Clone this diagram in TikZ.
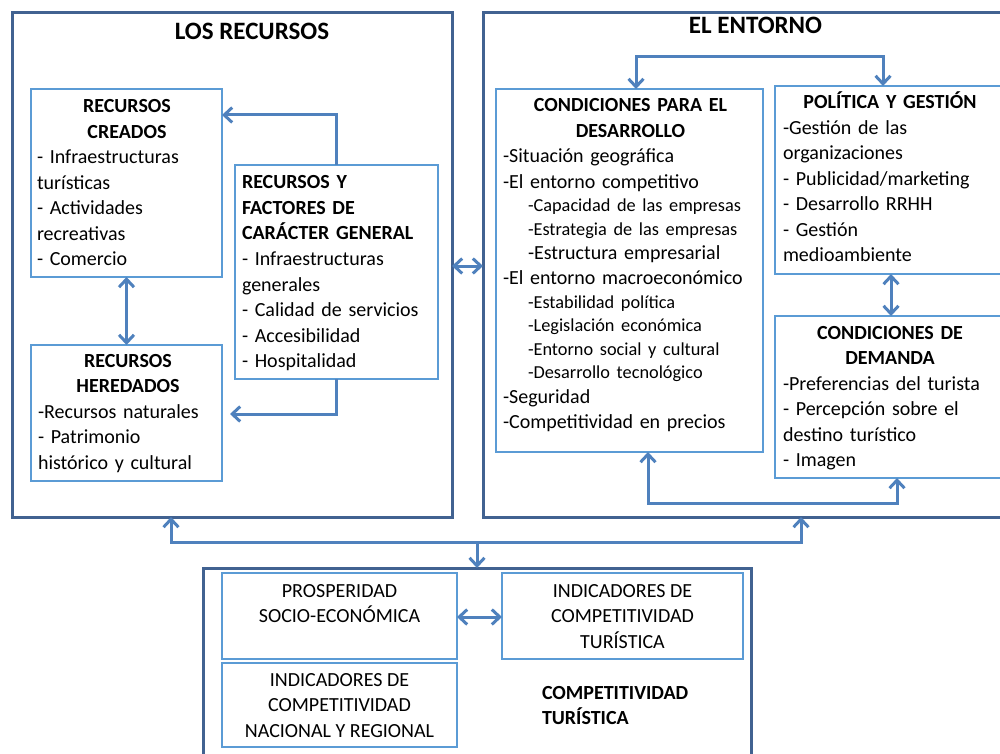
\documentclass[tikz,border=0pt]{standalone}
\usepackage{fontspec}
\setmainfont{Carlito}
\usetikzlibrary{arrows.meta}
\definecolor{outerc}{RGB}{65,98,145}
\definecolor{innerc}{RGB}{91,155,213}
\definecolor{arrc}{RGB}{79,129,189}
\newcommand\fMain{\fontsize{20}{25.5}\selectfont}
\newcommand\fSub{\fontsize{18.3}{23.5}\selectfont}
\newcommand\fMid{\fontsize{20}{24}\selectfont}
\newcommand\fTitle{\fontsize{25}{30}\selectfont\bfseries}
\begin{document}
\begin{tikzpicture}[x=1pt,y=-1pt,
  obox/.style={draw=outerc,line width=3pt,inner sep=0pt,outer sep=0pt},
  ibox/.style={draw=innerc,line width=1.6pt,inner sep=0pt,outer sep=0pt},
  txt/.style={inner sep=0pt,outer sep=0pt,align=left,font=\fMain,anchor=north west,
    execute at begin node={\setlength{\parindent}{0pt}}},
  ctxt/.style={inner sep=0pt,outer sep=0pt,align=center,font=\fMain,anchor=north},
  arr/.style={draw=arrc,line width=3pt,>={Straight Barb[length=8pt,width=15pt]}}
]
\useasboundingbox (0,0) rectangle (1000,754);
\clip (0,0) rectangle (1000,754);

% outer boxes
\node[obox,minimum width=440pt,minimum height=504pt] (rec) at (232,265) {};
\node[obox,minimum width=527pt,minimum height=504pt] (ent) at (746.5,265) {};
\node[obox,minimum width=548pt,minimum height=202pt] (comp) at (477,669) {};
\node[font=\fTitle,anchor=base,inner sep=0pt] (recTitle) at (252,40) {LOS RECURSOS};
\node[font=\fTitle,anchor=base,inner sep=0pt] (entTitle) at (755.5,34) {EL ENTORNO};

% inner boxes
\node[ibox,minimum width=191pt,minimum height=188pt] (cre) at (126.5,183) {};
\node[ibox,minimum width=191pt,minimum height=136pt] (her) at (126.5,413) {};
\node[ibox,minimum width=203pt,minimum height=214pt] (fac) at (336.5,272) {};
\node[ibox,minimum width=267pt,minimum height=363pt] (cond) at (629.5,270.5) {};
\node[ibox,minimum width=228pt,minimum height=188pt] (pol) at (889,180) {};
\node[ibox,minimum width=228pt,minimum height=162pt] (dem) at (889,397) {};
\node[ibox,minimum width=235pt,minimum height=86pt] (pros) at (339.5,616) {};
\node[ibox,minimum width=241pt,minimum height=86pt] (indT) at (622.5,616) {};
\node[ibox,minimum width=235pt,minimum height=84pt] (nac) at (339.5,705) {};

% texts
\node[txt,text width=180pt] (creT) at (37,95.15)
  {{\centering\bfseries\strut RECURSOS\\CREADOS\par}
   - Infraestructuras\\turísticas\\- Actividades\\recreativas\\- Comercio};
\node[txt,text width=180pt] (herT) at (38,349.15)
  {{\centering\bfseries\strut RECURSOS\\HEREDADOS\par}
   -Recursos naturales\\- Patrimonio\\histórico y cultural};
\node[txt,text width=195pt] (facT) at (242,171.15)
  {{\bfseries\strut RECURSOS Y\\FACTORES DE\\CARÁCTER GENERAL\par}
   - Infraestructuras\\generales\\- Calidad de servicios\\- Accesibilidad\\- Hospitalidad};
\node[txt,text width=255pt] (condT) at (503,94.15)
  {{\centering\bfseries\strut CONDICIONES PARA EL\\DESARROLLO\par}
   -Situación geográfica\par
   -El entorno competitivo\par
   {\fSub\leftskip=25pt -Capacidad de las empresas\par}
   {\fSub\leftskip=25pt -Estrategia de las empresas\par}
   {\fMid\leftskip=25pt -Estructura empresarial\par}
   -El entorno macroeconómico\par
   {\fSub\leftskip=25pt -Estabilidad política\par}
   {\fSub\leftskip=25pt -Legislación económica\par}
   {\fSub\leftskip=25pt -Entorno social y cultural\par}
   {\fSub\leftskip=25pt -Desarrollo tecnológico\par}
   {\fMid -Seguridad\par}
   -Competitividad en precios};
\node[txt,text width=214pt] (polT) at (783,91.15)
  {{\centering\bfseries\strut POLÍTICA Y GESTIÓN\par}
   -Gestión de las\\organizaciones\\- Publicidad/marketing\\- Desarrollo RRHH\\- Gestión\\medioambiente};
\node[txt,text width=214pt] (demT) at (783,321.15)
  {{\centering\bfseries\strut CONDICIONES DE\\DEMANDA\par}
   -Preferencias del turista\\- Percepción sobre el\\destino turístico\\- Imagen};
\node[ctxt] (prosT) at (339.5,579.15) {\strut PROSPERIDAD\\SOCIO-ECONÓMICA};
\node[ctxt] (indTT) at (622.5,579.15) {\strut INDICADORES DE\\COMPETITIVIDAD\\TURÍSTICA};
\node[ctxt] (nacT) at (339.5,668.15) {\strut INDICADORES DE\\COMPETITIVIDAD\\NACIONAL Y REGIONAL};
\node[txt,font=\fMain\bfseries] (compT) at (542,681.15) {\strut COMPETITIVIDAD\\TURÍSTICA};

% connectors
\coordinate (k1) at (337,115);
\coordinate (k2) at (337,414);
\coordinate (k3) at (0,266);
\coordinate (k4) at (636,57);
\coordinate (k5) at (883,57);
\coordinate (k6) at (891,0);
\coordinate (k7) at (648,503);
\coordinate (k8) at (897,503);
\coordinate (k9) at (171,542);
\coordinate (k10) at (801,542);
\coordinate (k11) at (477,542);
\coordinate (k12) at (0,617);

\draw[arr,<->] (cre.south) -- (her.north);
\draw[arr,->] (fac.north) |- (cre.east |- k1);
\draw[arr,->,shorten >=8pt] (fac.south) |- (her.east |- k2);
\draw[arr,<->] (rec.east |- k3) -- (ent.west |- k3);
\draw[arr,<->] (cond.north -| k4) -- (k4) -- (k5) -- (pol.north -| k5);
\draw[arr,<->] (pol.south -| k6) -- (dem.north -| k6);
\draw[arr,<->] (cond.south -| k7) -- (k7) -- (k8) -- (dem.south -| k8);
\draw[arr,<->] (rec.south -| k9) -- (k9) -- (k10) -- (ent.south -| k10);
\draw[arr,->] (k11) -- (comp.north -| k11);
\draw[arr,<->] (pros.east |- k12) -- (indT.west |- k12);
\end{tikzpicture}
\end{document}
